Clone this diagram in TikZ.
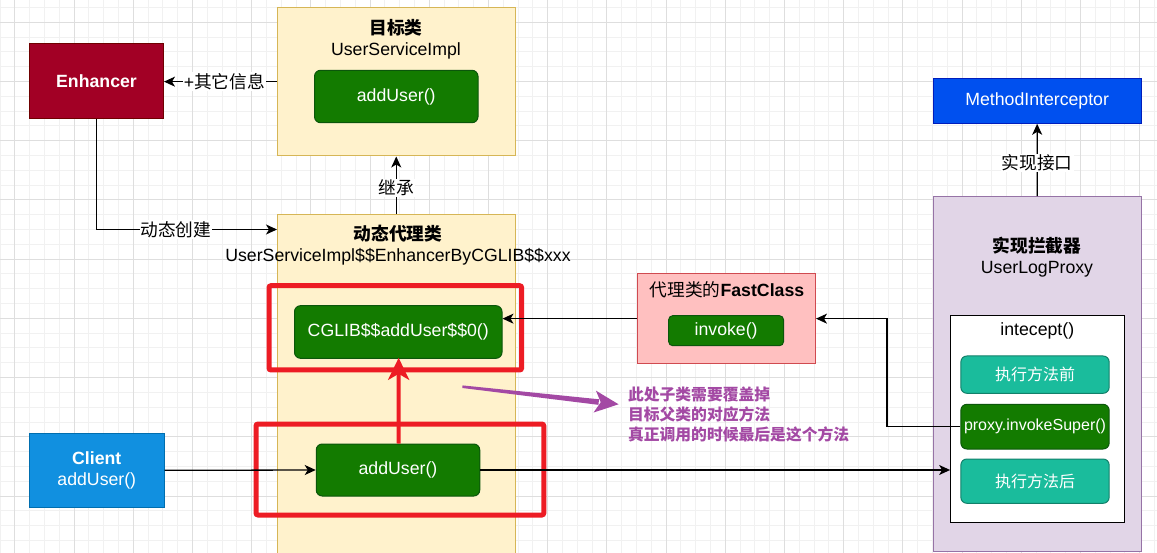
\documentclass[tikz,border=0pt]{standalone}
\usepackage{fontspec}
\setmainfont{Liberation Sans}
\newfontfamily\cjk{Noto Sans CJK SC}
\usetikzlibrary{arrows.meta,calc}
\definecolor{enhfill}{HTML}{A20025}
\definecolor{enhdraw}{HTML}{6F0000}
\definecolor{yelfill}{HTML}{FFF2CC}
\definecolor{yeldraw}{HTML}{D6B656}
\definecolor{grnfill}{HTML}{137B00}
\definecolor{grndraw}{HTML}{0B560B}
\definecolor{tealfill}{HTML}{1ABC9C}
\definecolor{tealdraw}{HTML}{12806A}
\definecolor{clifill}{HTML}{1190E0}
\definecolor{clidraw}{HTML}{006EAF}
\definecolor{mifill}{HTML}{0050EF}
\definecolor{midraw}{HTML}{001DBC}
\definecolor{fcfill}{HTML}{FFC0C0}
\definecolor{fcdraw}{HTML}{D04A50}
\definecolor{ulpfill}{HTML}{E1D5E7}
\definecolor{ulpdraw}{HTML}{9673A6}
\definecolor{paintred}{HTML}{ED1C24}
\definecolor{paintpur}{HTML}{A349A4}
\definecolor{gridminor}{HTML}{F1F1F1}
\definecolor{gridmajor}{HTML}{DEDEDE}
\newcommand\mainfs{\fontsize{17.7}{21}\selectfont}
\newcommand\smallfs{\fontsize{16}{20}\selectfont}
\newcommand\notefs{\fontsize{15.8}{20}\selectfont}
\tikzset{
  bx/.style={draw, line width=1pt, inner sep=0pt, align=center, font=\mainfs},
  rbx/.style={bx, rounded corners=6pt},
  grnbox/.style={rbx, fill=grnfill, draw=grndraw, text=white},
  tealbox/.style={rbx, fill=tealfill, draw=tealdraw, text=white, font=\smallfs},
  hilite/.style={draw=paintred, line width=5pt, rounded corners=2pt, inner sep=0pt},
  conn/.style={draw, line width=1.3pt, -{Stealth[length=11pt,width=10pt,inset=3pt]}},
  lbl/.style={fill=white, inner sep=1pt, font=\mainfs},
  minorln/.style={draw=gridminor, line width=1pt},
  majorln/.style={draw=gridmajor, line width=1pt}
}
\begin{document}
\begin{tikzpicture}[x=1pt,y=-1pt]
\useasboundingbox (0,0) rectangle (1157,553);
\fill[white] (0,0) rectangle (1157,553);
% grid
\foreach \i in {0,...,79} { \draw[minorln] (\i*14.8,0) -- (\i*14.8,553); }
\foreach \j in {0,...,37} { \draw[minorln] (0,7.6+\j*14.8) -- (1157,7.6+\j*14.8); }
\foreach \i in {0,...,19} { \draw[majorln] (14.8+\i*59.2,0) -- (14.8+\i*59.2,553); }
\foreach \j in {0,...,9} { \draw[majorln] (0,22.4+\j*59.2) -- (1157,22.4+\j*59.2); }

% Enhancer
\node[bx, fill=enhfill, draw=enhdraw, text=white, minimum width=134pt, minimum height=75pt, font=\mainfs\bfseries] (enh) at (96.5,81.5) {Enhancer};

% target class
\node[bx, fill=yelfill, draw=yeldraw, minimum width=237.5pt, minimum height=148.7pt] (tgt) at (396.25,81.65) {};
\node[align=center, inner sep=0pt, font=\mainfs] (tgtt) at (396,38.8) {{\cjk\bfseries 目标类}\\UserServiceImpl};
\node[grnbox, minimum width=163.5pt, minimum height=52.4pt] (tadd) at (396.25,96.5) {addUser()};

% proxy class
\node[bx, fill=yelfill, draw=yeldraw, minimum width=237.5pt, minimum height=345.7pt] (proxy) at (396.25,387.15) {};
\node[align=center, inner sep=0pt, font=\mainfs] (proxyt) at (398,245.5) {{\cjk\bfseries 动态代理类}\\UserServiceImpl\$\$EnhancerByCGLIB\$\$xxx};
\node[grnbox, minimum width=207.5pt, minimum height=52.6pt] (cglib) at (398.25,332) {CGLIB\$\$addUser\$\$0()};
\node[grnbox, minimum width=163.5pt, minimum height=52pt] (padd) at (398,470) {addUser()};

% client
\node[bx, fill=clifill, draw=clidraw, text=white, minimum width=134.4pt, minimum height=74.7pt] (client) at (96.8,470.35) {\textbf{Client}\\addUser()};

% FastClass
\node[bx, fill=fcfill, draw=fcdraw, minimum width=178.5pt, minimum height=89.3pt] (fast) at (726.25,318.65) {};
\node[inner sep=0pt, font=\mainfs] (fastt) at (727,290) {{\cjk 代理类的}\textbf{FastClass}};
\node[grnbox, rounded corners=4pt, minimum width=114.8pt, minimum height=30pt] (invoke) at (726.1,330.7) {invoke()};

% MethodInterceptor
\node[bx, fill=mifill, draw=midraw, text=white, minimum width=207.7pt, minimum height=45pt] (mi) at (1037.15,100.8) {MethodInterceptor};

% UserLogProxy
\node[bx, fill=ulpfill, draw=ulpdraw, minimum width=207.9pt, minimum height=354.3pt] (ulp) at (1037.25,373.85) {};
\node[align=center, inner sep=0pt, font=\mainfs] (ulpt) at (1037,257.5) {{\cjk\bfseries 实现拦截器}\\UserLogProxy};
\node[bx, fill=white, draw=black, minimum width=173.4pt, minimum height=207pt] (icpt) at (1037.3,419.2) {};
\node[inner sep=0pt, font=\mainfs] (icptt) at (1037.3,331) {intecept()};
\node[tealbox, minimum width=148.3pt, minimum height=37.3pt] (before) at (1035,374.65) {\cjk 执行方法前};
\node[grnbox, font=\smallfs, minimum width=148.3pt, minimum height=44.7pt] (invsup) at (1035,426.65) {proxy.invokeSuper()};
\node[tealbox, minimum width=148.3pt, minimum height=44.3pt] (after) at (1035,481.15) {\cjk 执行方法后};

% highlight boxes
\node[hilite, minimum width=252.6pt, minimum height=84.3pt] (red1) at (395.3,327.85) {};
\node[hilite, minimum width=287.8pt, minimum height=91pt] (red2) at (399.9,469.5) {};

% connectors
\draw[conn] (tgt.west) -- (tgt.west -| enh.east) node[lbl, pos=0.465] {+{\cjk 其它信息}};
\draw[conn] (proxy.north) -- (tgt.south) node[lbl, pos=0.45] {\cjk 继承};
\coordinate (pin) at ([yshift=-15.7pt]proxy.north west);
\draw[conn] (enh.south) |- (pin) node[lbl, pos=0.72] {\cjk 动态创建};
\draw[conn] (client.east) -- (padd.west);
\draw[conn] (padd.east) -- (padd.east -| icpt.west);
\draw[conn] (fast.west) -- (fast.west -| cglib.east);
\draw[conn] (invsup.west) -- ++(-73.4,0) |- (fast.east);
\draw[conn] (ulp.north) -- (mi.south) node[lbl, pos=0.46] {\cjk 实现接口};
\draw[draw=paintred, line width=4pt, -{Stealth[length=22pt,width=21pt,inset=6pt]}] ([xshift=0.6pt]padd.north) -- ([xshift=0.4pt,yshift=1pt]cglib.south);

% note and purple arrow
\node[anchor=west, align=left, inner sep=0pt, font=\notefs\bfseries\cjk, text=paintpur] (note) at (627.8,414.3) {此处子类需要覆盖掉\\目标父类的对应方法\\真正调用的时候最后是这个方法};
\coordinate (ps) at (462.4,386.7);
\coordinate (ptip) at ([xshift=-9.2pt,yshift=10pt]note.west);
\coordinate (pe) at ($(ptip)!20pt!(ps)$);
\coordinate (pb) at ($(ptip)!24pt!(ps)$);
\coordinate (pn) at ($(ptip)!18pt!(ps)$);
\fill[paintpur] ($(ps)!1.3pt!90:(ptip)$) -- ($(pe)!2.8pt!-90:(ps)$) -- ($(pe)!2.8pt!90:(ps)$) -- ($(ps)!1.3pt!-90:(ptip)$) -- cycle;
\fill[paintpur] (ptip) -- ($(pb)!11pt!90:(ps)$) -- (pn) -- ($(pb)!11pt!-90:(ps)$) -- cycle;
\end{tikzpicture}
\end{document}
